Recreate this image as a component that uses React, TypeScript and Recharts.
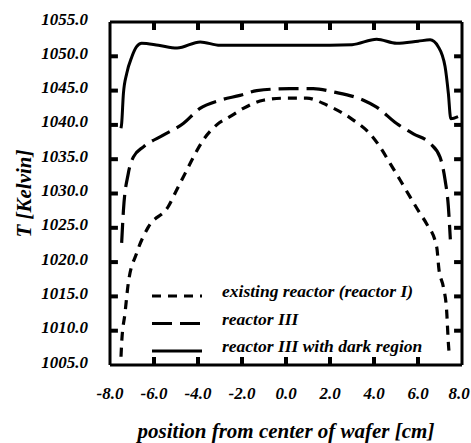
import { LineChart, Line, XAxis, YAxis, Legend } from "recharts";

const FONT = "'Liberation Serif', 'DejaVu Serif', serif";

// existing reactor (reactor I) – short dashes
const reactorIPos = [-7.5, -7.47, -7.32, -7.17, -6.79, -6.26, -5.35, -4.97, -4.59, -4.21, -3.76, -3.15, -2.55, -1.94, -1.03, 0.0, 0.94, 1.85, 3.06, 3.82, 4.27, 4.73, 5.18, 5.64, 6.09, 6.39, 6.85, 6.95, 7.15, 7.3, 7.38, 7.42];
const reactorITemp = [1006.2, 1008.2, 1012.5, 1016.9, 1021.3, 1025.1, 1028.1, 1030.5, 1032.9, 1035.3, 1037.8, 1040.0, 1041.2, 1042.4, 1043.6, 1043.9, 1043.9, 1042.9, 1040.7, 1038.7, 1036.8, 1034.4, 1032.0, 1029.5, 1027.1, 1025.6, 1022.2, 1019.0, 1016.4, 1013.0, 1008.2, 1006.5];

// reactor III – long dashes
const reactorIIIPos = [-7.47, -7.39, -7.17, -6.94, -6.48, -5.58, -4.67, -3.91, -3.0, -2.09, -1.33, 0.18, 1.24, 2.15, 3.52, 4.12, 5.03, 5.79, 6.55, 7.0, 7.23, 7.38, 7.47];
const reactorIIITemp = [1022.8, 1027.5, 1032.9, 1035.3, 1036.8, 1038.5, 1040.2, 1042.4, 1043.6, 1044.3, 1045.0, 1045.3, 1045.3, 1044.8, 1043.6, 1042.6, 1040.2, 1038.7, 1037.3, 1035.3, 1032.0, 1028.1, 1023.3];

// reactor III with dark region – solid
const darkPos = [-7.5, -7.47, -7.39, -7.24, -7.01, -6.79, -6.56, -5.8, -4.95, -3.9, -3.0, -1.0, 1.0, 3.0, 4.12, 5.03, 6.0, 6.55, 6.92, 7.23, 7.38, 7.49, 7.82];
const darkTemp = [1039.5, 1040.2, 1044.6, 1047.5, 1049.9, 1051.4, 1051.9, 1051.6, 1051.2, 1052.1, 1051.6, 1051.6, 1051.6, 1051.7, 1052.5, 1051.9, 1052.2, 1052.4, 1051.4, 1048.5, 1044.6, 1040.9, 1041.2];

const xTicks = [-8, -6, -4, -2, 0, 2, 4, 6, 8];
const yTicks = [1005, 1010, 1015, 1020, 1025, 1030, 1035, 1040, 1045, 1050, 1055];

const seriesNames = ["existing reactor (reactor I)", "reactor III", "reactor III with dark region"];
const dashes = ["9 7", "20 8", undefined];

const toRows = (xs: number[], ts: number[]) => xs.map((x, i) => ({ x, t: ts[i] }));

const X_MIN = -8, X_MAX = 8, T_MIN = 1005, T_MAX = 1055;
// inward tick stub length, in data units (~8px)
const X_STUB = 0.36;
const T_STUB = 1.17;

// inward tick marks on all four frame sides, each a tiny two-point line
const stubs = [
  ...xTicks.slice(1, -1).map((v) => [{ x: v, t: T_MIN }, { x: v, t: T_MIN + T_STUB }]),
  ...xTicks.slice(1, -1).map((v) => [{ x: v, t: T_MAX }, { x: v, t: T_MAX - T_STUB }]),
  ...yTicks.slice(1, -1).map((v) => [{ x: X_MIN, t: v }, { x: X_MIN + X_STUB, t: v }]),
  ...yTicks.slice(1, -1).map((v) => [{ x: X_MAX - X_STUB, t: v }, { x: X_MAX, t: v }]),
];

const txt = { fontFamily: FONT, fontWeight: 700, fontStyle: "italic" as const, fill: "#000" };

function BottomTick(p: any) {
  const c = Math.min(p.x, 459);
  return (
    <text x={c} y={p.y + 4} textAnchor="middle" dominantBaseline="hanging" fontSize={17} {...txt}>
      {p.payload.value.toFixed(1)}
    </text>
  );
}

function LeftTick(p: any) {
  return (
    <text x={p.x} y={p.y - 3} textAnchor="end" dominantBaseline="central" fontSize={17} {...txt}>
      {p.payload.value.toFixed(1)}
    </text>
  );
}

function LegendBox() {
  return (
    <svg width={300} height={84} style={{ display: "block" }}>
      {seriesNames.map((name, i) => {
        const y = 14 + i * 27.5;
        return (
          <g key={name}>
            <line x1={2} x2={52} y1={y} y2={y} stroke="#000" strokeWidth={3} strokeDasharray={dashes[i]} />
            <text x={72} y={y + 1} fontSize={17.5} {...txt}>
              {name}
            </text>
          </g>
        );
      })}
    </svg>
  );
}

export default function App() {
  const frame = { stroke: "#000", strokeWidth: 3 };
  return (
    <div style={{ position: "absolute", left: 0, top: 0, background: "#fff" }}>
      <LineChart width={471} height={443} margin={{ top: 2, right: 0, bottom: 8, left: 0 }}>
        <XAxis
          xAxisId="b"
          dataKey="x"
          type="number"
          domain={[X_MIN, X_MAX]}
          ticks={xTicks}
          height={70}
          axisLine={frame}
          tickLine={false}
          tickSize={0}
          tickMargin={18}
          tick={<BottomTick />}
          label={{
            content: (p: any) => (
              <text
                x={p.viewBox.x + p.viewBox.width / 2}
                y={p.viewBox.y + 73}
                textAnchor="middle"
                fontSize={21}
                {...txt}
              >
                position from center of wafer [cm]
              </text>
            ),
          }}
        />
        <XAxis
          xAxisId="t"
          dataKey="x"
          type="number"
          orientation="top"
          domain={[X_MIN, X_MAX]}
          ticks={xTicks}
          height={20}
          axisLine={frame}
          tickLine={false}
          tick={false}
        />
        <YAxis
          yAxisId="l"
          type="number"
          domain={[T_MIN, T_MAX]}
          ticks={yTicks}
          width={110}
          axisLine={frame}
          tickLine={false}
          tickSize={0}
          tickMargin={22}
          tick={<LeftTick />}
          label={{
            content: (p: any) => {
              const cx = p.viewBox.x + 24;
              const cy = p.viewBox.y + p.viewBox.height / 2;
              return (
                <text
                  x={cx}
                  y={cy}
                  transform={`rotate(-90 ${cx} ${cy})`}
                  textAnchor="middle"
                  dominantBaseline="central"
                  fontSize={21}
                  {...txt}
                >
                  T [Kelvin]
                </text>
              );
            },
          }}
        />
        <YAxis
          yAxisId="r"
          type="number"
          orientation="right"
          domain={[T_MIN, T_MAX]}
          ticks={yTicks}
          width={9}
          axisLine={frame}
          tickLine={false}
          tick={false}
        />
        <Legend
          layout="vertical"
          align="center"
          verticalAlign="middle"
          wrapperStyle={{ left: 150, top: 282, width: 300 }}
          content={() => <LegendBox />}
        />
        <Line
          xAxisId="b"
          yAxisId="l"
          data={toRows(reactorIPos, reactorITemp)}
          dataKey="t"
          type="monotone"
          stroke="#000"
          strokeWidth={3.2}
          strokeDasharray={dashes[0]}
          dot={false}
          isAnimationActive={false}
        />
        <Line
          xAxisId="b"
          yAxisId="l"
          data={toRows(reactorIIIPos, reactorIIITemp)}
          dataKey="t"
          type="monotone"
          stroke="#000"
          strokeWidth={3.2}
          strokeDasharray={dashes[1]}
          dot={false}
          isAnimationActive={false}
        />
        <Line
          xAxisId="b"
          yAxisId="l"
          data={toRows(darkPos, darkTemp)}
          dataKey="t"
          type="monotone"
          stroke="#000"
          strokeWidth={3}
          dot={false}
          isAnimationActive={false}
        />
        {stubs.map((s, i) => (
          <Line
            key={`stub${i}`}
            xAxisId="b"
            yAxisId="l"
            data={s}
            dataKey="t"
            type="linear"
            stroke="#000"
            strokeWidth={4}
            dot={false}
            activeDot={false}
            legendType="none"
            isAnimationActive={false}
          />
        ))}
      </LineChart>
    </div>
  );
}
